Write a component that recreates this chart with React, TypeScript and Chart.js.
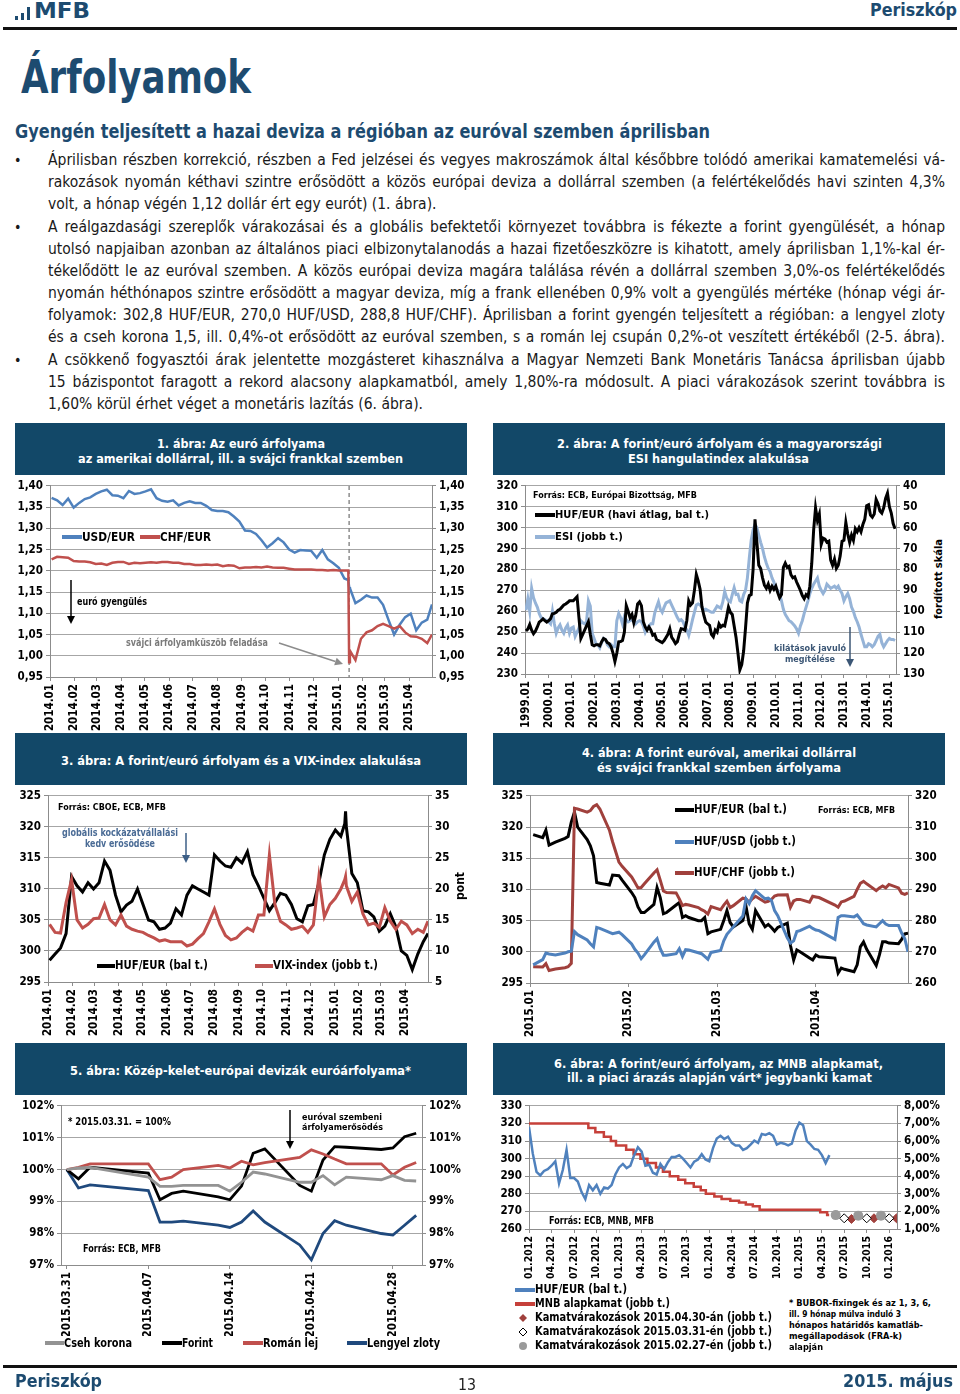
import React, { useEffect, useLayoutEffect, useRef } from "react";
import { Chart, registerables } from "chart.js";
Chart.register(...registerables);

const FONT = "'DejaVu Sans Condensed','DejaVu Sans',sans-serif";
const NARROW = "'Liberation Sans Narrow','DejaVu Sans Condensed',sans-serif";
const NAVY = "#1d4b70";
const BOXBG = "#124868";
const GRID = "#a6a6a6";
const AXIS = "#8c8c8c";
const BLUE = "#4f81bd";
const RED = "#c0504d";
const DRED = "#a0403c";
const LBLUE = "#95b3d7";
const DBLUE = "#1f497d";
const GRAYL = "#939393";

// ---------------- DATA ----------------
// Chart 1: USD/EUR and CHF/EUR (weekly readings)
const c1Dates = [
  "2014-01-03","2014-01-10","2014-01-17","2014-01-24","2014-01-31",
  "2014-02-07","2014-02-14","2014-02-21","2014-02-28",
  "2014-03-07","2014-03-14","2014-03-21","2014-03-28",
  "2014-04-04","2014-04-11","2014-04-18","2014-04-25",
  "2014-05-02","2014-05-09","2014-05-16","2014-05-23","2014-05-30",
  "2014-06-06","2014-06-13","2014-06-20","2014-06-27",
  "2014-07-04","2014-07-11","2014-07-18","2014-07-25",
  "2014-08-01","2014-08-08","2014-08-15","2014-08-22","2014-08-29",
  "2014-09-05","2014-09-12","2014-09-19","2014-09-26",
  "2014-10-03","2014-10-10","2014-10-17","2014-10-24","2014-10-31",
  "2014-11-07","2014-11-14","2014-11-21","2014-11-28",
  "2014-12-05","2014-12-12","2014-12-19","2014-12-26",
  "2015-01-02","2015-01-09","2015-01-14","2015-01-15","2015-01-16","2015-01-23","2015-01-30",
  "2015-02-06","2015-02-13","2015-02-20","2015-02-27",
  "2015-03-06","2015-03-13","2015-03-20","2015-03-27",
  "2015-04-03","2015-04-10","2015-04-17","2015-04-24","2015-04-30",
];
const c1Usd = [
  1.372,1.366,1.355,1.37,1.349, 1.36,1.369,1.373,1.381, 1.387,1.391,1.378,1.377,
  1.371,1.388,1.381,1.383, 1.387,1.392,1.371,1.365,1.363, 1.366,1.354,1.36,1.364,
  1.36,1.36,1.353,1.343, 1.341,1.341,1.338,1.328,1.316, 1.295,1.294,1.287,1.272,
  1.255,1.265,1.277,1.267,1.25, 1.243,1.249,1.248,1.247, 1.231,1.249,1.227,1.218,
  1.207,1.182,1.178,1.162,1.159,1.124,1.132, 1.142,1.137,1.137,1.12,
  1.084,1.05,1.073,1.091, 1.099,1.06,1.078,1.085,1.121,
];
const c1Chf = [
  1.227,1.233,1.232,1.231,1.223, 1.222,1.222,1.22,1.216, 1.217,1.214,1.219,1.221,
  1.221,1.216,1.219,1.218, 1.219,1.22,1.219,1.221,1.221, 1.219,1.219,1.216,1.216,
  1.214,1.214,1.215,1.214, 1.215,1.211,1.213,1.212,1.206, 1.208,1.208,1.209,1.208,
  1.21,1.208,1.207,1.207,1.205, 1.203,1.203,1.203,1.203, 1.202,1.202,1.201,1.202,
  1.201,1.201,1.201,0.985,1.012,0.99,1.04, 1.055,1.06,1.07,1.075,
  1.07,1.064,1.07,1.055, 1.046,1.045,1.04,1.03,1.05,
];
const c1Months = ["2014-01-01","2014-02-01","2014-03-01","2014-04-01","2014-05-01","2014-06-01","2014-07-01","2014-08-01","2014-09-01","2014-10-01","2014-11-01","2014-12-01","2015-01-01","2015-02-01","2015-03-01","2015-04-01"];
const c1MonthLabels = ["2014.01","2014.02","2014.03","2014.04","2014.05","2014.06","2014.07","2014.08","2014.09","2014.10","2014.11","2014.12","2015.01","2015.02","2015.03","2015.04"];
const c1YTicks = [0.95, 1.0, 1.05, 1.1, 1.15, 1.2, 1.25, 1.3, 1.35, 1.4];
const c1Break = "2015-01-15";

// Chart 2: HUF/EUR monthly average and ESI (1999.01 - 2015.04)
const c2Huf = [
  250.6,251.5,253.7,251.0,249.3,250.5,252.5,254.8,255.5,256.4,255.5,254.8,
  255.5,256.5,258.8,259.0,259.5,260.5,261.0,262.0,263.0,263.5,264.2,265.0,
  265.0,265.0,266.0,267.0,257.0,247.0,249.0,251.0,253.0,255.0,249.0,244.0,
  243.5,244.0,244.0,243.5,245.5,247.0,246.5,245.0,244.5,243.0,240.0,236.0,
  240.0,245.4,245.5,246.0,250.0,262.7,260.0,257.0,258.5,254.5,258.0,263.5,
  264.5,262.7,255.0,252.5,251.0,252.5,251.0,248.6,249.0,246.5,246.0,245.5,
  245.0,246.0,247.5,249.0,251.6,247.5,246.2,244.6,245.5,249.0,251.7,251.5,
  251.0,255.6,265.0,263.0,264.0,270.0,277.6,274.5,270.5,262.0,258.0,254.8,
  254.0,253.3,249.0,247.8,251.0,250.0,254.0,252.5,253.3,253.0,257.2,262.0,
  259.5,258.5,253.0,247.5,240.0,232.0,234.5,241.0,252.0,264.0,267.5,268.0,
  280.0,304.0,293.0,282.0,280.5,276.0,272.5,271.0,273.0,270.0,272.0,270.5,
  272.0,269.0,266.5,268.0,281.0,283.0,281.0,281.5,277.5,276.0,276.5,274.0,
  272.0,270.0,267.5,266.0,268.0,267.0,272.0,283.0,299.0,309.5,303.5,306.5,
  292.0,295.0,294.5,293.0,293.5,284.5,282.0,285.0,280.5,282.0,286.5,293.5,
  294.0,302.5,297.0,293.0,296.5,294.0,299.5,298.0,300.0,298.0,301.5,304.0,
  310.5,311.0,306.0,305.0,306.5,313.5,311.5,308.0,307.0,309.5,314.0,316.5,
  310.0,307.0,302.0,299.5,
];
const c2Esi = [
  99.5,94,100,89,93.5,96,98,101,103,103.5,104,104.5,
  105,106,100,106,110.5,108,106.5,109,110.5,108,106.5,110.5,
  108,107.5,112,110,108,104.5,105.5,106,105,95,97.5,110.5,
  113,115.5,116,117.5,115,113,113.5,116,117,116,117,117,
  104.5,101,103,106,102.5,104,105,104.5,104,105,106,105,
  104.5,105,107,110,108,107,106,106,101,98,95.5,99,
  100.5,98,96,95.5,95,97,99,101,103,104.5,104,105,
  107.5,109,111.5,108,104,100.5,97,96.5,97,98,99.5,99,
  99.5,100,100.5,100.5,99,97.5,98,98.5,95.5,90.5,93.5,95,
  95.5,92,88.7,92,91.8,95,95.5,92,90,84,74.5,66,
  61,58.5,60,63.5,67,70,74,77,79.5,81,84,86,
  89,90,92,95,99,101.5,103,104.5,105,106,107,108.5,
  110.5,107,104.5,101,98,95,91.5,89,87,85.5,84,88,
  90,91.5,90,87,88,89,88.5,88,89,88,90,91.5,
  95,93,91.5,94,98,100,103,105,107.5,111,114,117,
  117,115.5,116,117,116,114,112,111,115,117,115.5,114,
  113,113.5,113.5,114,
];
const c2Years = ["1999","2000","2001","2002","2003","2004","2005","2006","2007","2008","2009","2010","2011","2012","2013","2014","2015"];
const c2LeftTicks = [230, 240, 250, 260, 270, 280, 290, 300, 310, 320];
const c2RightTicks = [40, 50, 60, 70, 80, 90, 100, 110, 120, 130];

// Chart 3: HUF/EUR and VIX (same weekly dates as chart 1)
const c3Dates = c1Dates;
const c3Huf = [
  298.5,299.5,300.5,302.8,312,310.5,309.5,311,310,311,
  314.5,313,309,306.3,307.4,308,310,307.5,305,304.7,
  303.5,303.7,304.5,306.8,305.8,309,310.5,310,309.5,309,
  315.5,314.5,313.7,313.5,315,314.2,316,312.3,310.5,308.5,
  306.5,307.8,309.3,309,307.5,305.2,304.7,307.3,307.5,311,
  315.5,318,319.5,
  318.5,320.5,322.5,320.0,312.5,311.0,
  306.5,306.3,305.5,303.2, 304.0,306.0,303.9,300.0,
  299.3,297.0,299.5,301.5,302.8,
];
const c3Vix = [
  14.3,13.0,12.9,17.8,21.5,15.0,13.7,14.3,15.2,15.3,
  17.5,15.0,14.2,15.8,14.0,13.5,13.2,13.0,12.5,12.1,
  11.6,11.8,11.5,11.5,11.5,10.8,11.1,12.0,12.8,14.7,
  16.8,14.3,12.5,11.8,12.1,13.0,13.7,13.2,15.8,15.8,
  25.5,17.5,14.8,14.2,13.5,13.7,14.0,13.0,14.2,22.0,
  15.5,17.5,
  18.5,20.0,21.5,22.0,20.5,18.0,19.5,
  16.0,14.2,14.5,13.8, 17.0,14.8,13.5,14.8,
  14.2,12.8,13.5,13.0,14.8,
];
const c3LeftTicks = [295, 300, 305, 310, 315, 320, 325];
const c3RightTicks = [5, 10, 15, 20, 25, 30, 35];

// Chart 4: HUF vs EUR, USD, CHF (2015 Jan-Apr)
const c4Dates = [
  "2015-01-02","2015-01-05","2015-01-06","2015-01-07","2015-01-09","2015-01-12","2015-01-13","2015-01-14","2015-01-15","2015-01-16",
  "2015-01-19","2015-01-20","2015-01-21","2015-01-22","2015-01-23","2015-01-26","2015-01-27","2015-01-29","2015-01-30",
  "2015-02-02","2015-02-03","2015-02-04","2015-02-05","2015-02-06","2015-02-09","2015-02-10","2015-02-11","2015-02-12","2015-02-13",
  "2015-02-16","2015-02-17","2015-02-18","2015-02-19","2015-02-20","2015-02-23","2015-02-24","2015-02-25","2015-02-26","2015-02-27",
  "2015-03-02","2015-03-03","2015-03-04","2015-03-05","2015-03-06","2015-03-09","2015-03-10","2015-03-11","2015-03-12","2015-03-13",
  "2015-03-16","2015-03-17","2015-03-18","2015-03-19","2015-03-20","2015-03-23","2015-03-24","2015-03-25","2015-03-26","2015-03-27",
  "2015-03-30","2015-03-31",
  "2015-04-01","2015-04-02","2015-04-07","2015-04-08","2015-04-09","2015-04-10","2015-04-13","2015-04-14","2015-04-15","2015-04-16",
  "2015-04-17","2015-04-20","2015-04-21","2015-04-22","2015-04-23","2015-04-24","2015-04-27","2015-04-28","2015-04-29","2015-04-30",
];
const c4Eur = [
  318.8,318.3,319.5,317.1,317.6,318.2,318.5,320.8,322.4,320.0,
  318.0,317.0,315.4,311.1,311.0,310.7,312.3,312.2,311.5,
  309.5,308.7,307.2,306.3,306.3,307.6,310.3,308.7,306.1,306.3,
  307.5,307.9,305.5,305.8,305.5,305.0,305.0,305.5,302.9,303.2,
  303.6,305.0,306.6,304.7,304.0,305.0,307.3,304.5,303.6,306.6,
  304.0,304.4,303.9,303.3,303.9,304.6,301.0,298.7,300.3,300.0,
  299.0,298.7,
  299.5,299.2,299.0,296.6,297.4,297.2,296.8,297.9,300.8,301.6,
  300.4,297.8,299.5,301.6,301.6,301.4,301.3,302.0,302.9,303.0,
];
const c4Usd = [
  265.8,267.5,269.6,269.3,269.0,269.6,270.0,270.2,276.5,275.5,
  273.8,272.6,271.6,277.8,277.5,276.2,275.8,276.3,275.5,
  272.5,270.8,269.6,267.8,269.0,273.1,274.2,271.0,268.9,268.9,
  269.4,271.0,268.5,270.7,270.6,269.7,269.4,268.5,267.6,269.8,
  270.4,273.5,275.6,276.8,278.0,281.5,287.0,285.5,288.0,289.6,
  287.0,287.2,286.5,283.2,281.6,274.5,272.8,273.5,276.5,276.8,
  278.2,277.5,
  277.0,276.8,274.0,281.0,281.6,281.6,281.2,281.8,280.5,279.0,
  278.6,278.0,279.0,280.0,278.9,278.4,278.4,276.0,274.2,270.0,
];
const c4Chf = [
  265.2,265.1,266.2,264.0,264.5,264.9,265.2,266.3,316.0,315.8,
  314.8,315.3,316.6,317.2,315.8,309.0,305.3,298.8,297.4,
  294.0,292.3,290.5,290.6,291.8,295.3,296.3,293.0,289.5,289.0,
  288.9,287.0,284.8,285.2,285.0,284.2,283.5,283.0,282.1,284.5,
  283.5,285.0,286.2,284.2,284.8,287.2,287.0,285.9,287.0,287.8,
  285.9,286.2,286.8,287.9,288.2,288.3,284.3,286.3,286.8,286.8,
  285.9,287.8,
  287.6,287.4,285.0,284.3,286.0,286.3,287.8,290.0,292.0,292.6,
  291.8,289.6,290.5,291.1,290.5,291.6,290.5,288.8,288.4,288.9,
];
const c4Months = ["2015-01-01","2015-02-01","2015-03-01","2015-04-01"];
const c4MonthLabels = ["2015.01","2015.02","2015.03","2015.04"];
const c4LeftTicks = [295, 300, 305, 310, 315, 320, 325];
const c4RightTicks = [260, 270, 280, 290, 300, 310, 320];

// Chart 5: CEE currencies vs EUR, 2015.03.31 = 100%
const c5Dates = ["2015-03-31","2015-04-01","2015-04-02","2015-04-07","2015-04-08","2015-04-09","2015-04-10","2015-04-13","2015-04-14","2015-04-15","2015-04-16","2015-04-17","2015-04-20","2015-04-21","2015-04-22","2015-04-23","2015-04-24","2015-04-27","2015-04-28","2015-04-29","2015-04-30"];
const c5Czk = [100,100.05,100.07,99.76,99.47,99.47,99.5,99.5,99.32,99.6,99.92,99.86,99.6,99.6,99.81,99.52,99.76,99.68,99.81,99.66,99.64];
const c5Huf = [100,99.71,100.07,99.89,99.05,99.25,99.32,99.14,99.05,99.48,100.51,100.65,99.5,99.32,100.3,100.72,100.7,100.63,100.68,101.03,101.14];
const c5Ron = [100,100.07,100.18,100.18,99.68,99.76,100,100.13,100.05,100.26,100.15,100.22,100.38,100.62,100.49,100.33,100.18,100.18,99.83,100.07,100.22];
const c5Pln = [100,99.42,99.52,99.34,98.35,98.35,98.38,98.25,98.18,98.35,98.7,98.35,97.63,97.16,97.99,98.39,98.25,97.99,97.94,98.25,98.56];
const c5TickDates = ["2015-03-31","2015-04-07","2015-04-14","2015-04-21","2015-04-28"];
const c5TickLabels = ["2015.03.31","2015.04.07","2015.04.14","2015.04.21","2015.04.28"];
const c5YTicks = [97, 98, 99, 100, 101, 102];

// Chart 6: HUF/EUR (values on the 1st and 16th of each month from 2012.01), MNB base rate, expectations
const c6Huf = [
  318,303,292.5,290.5,293,294,296,298.5,286,293.5,
  305,289,289,287,281,277,285,282,285,280,
  283.6,283,285,291,295,297,294.6,296,302,306.5,
  304,296,296.5,292,291,297,294,298,301,301,
  302,300,297.5,295,298.3,299.5,302.5,299.5,298.5,306,
  311.5,313,311.2,312.5,309,307.5,307.5,305,306,308,
  310.3,309,314,313.5,314.5,313,308,309,308.5,307.5,
  308.5,316,320.5,319,310,308,305.5,305,302,297.5,
  302,
];
const c6RateDates = ["2012-01-01","2012-08-29","2012-09-26","2012-10-31","2012-11-28","2012-12-19","2013-01-30","2013-02-27","2013-03-27","2013-04-24","2013-05-29","2013-06-26","2013-07-24","2013-08-28","2013-09-25","2013-10-30","2013-11-27","2013-12-18","2014-01-22","2014-02-19","2014-03-26","2014-04-30","2014-05-28","2014-06-25","2014-07-23","2015-03-25","2015-04-22","2015-04-30"];
const c6Rates = [7.0,6.75,6.5,6.25,6.0,5.75,5.5,5.25,5.0,4.75,4.5,4.25,4.0,3.8,3.6,3.4,3.2,3.0,2.85,2.7,2.6,2.5,2.4,2.3,2.1,1.95,1.8,1.8];
const c6ExpFebDates = ["2015-05-27","2015-08-27","2015-11-27"];
const c6ExpFeb = [1.79, 1.76, 1.76];
const c6ExpMarDates = ["2015-06-30","2015-09-30","2015-12-31"];
const c6ExpMar = [1.61, 1.61, 1.61];
const c6ExpAprDates = ["2015-07-30","2015-10-30","2016-01-30"];
const c6ExpApr = [1.57, 1.61, 1.61];
const c6TickLabels = ["01.2012","04.2012","07.2012","10.2012","01.2013","04.2013","07.2013","10.2013","01.2014","04.2014","07.2014","10.2014","01.2015","04.2015","07.2015","10.2015","01.2016"];
const c6LeftTicks = [260, 270, 280, 290, 300, 310, 320, 330];
const c6RightTicks = [1, 2, 3, 4, 5, 6, 7, 8];

// Body text lines
const bodyLines = [
  "Áprilisban részben korrekció, részben a Fed jelzései és vegyes makroszámok által későbbre tolódó amerikai kamatemelési vá-",
  "rakozások nyomán kéthavi szintre erősödött a közös európai deviza a dollárral szemben (a felértékelődés havi szinten 4,3%",
  "volt, a hónap végén 1,12 dollár ért egy eurót) (1. ábra).",
  "A reálgazdasági szereplők várakozásai és a globális befektetői környezet továbbra is fékezte a forint gyengülését, a hónap",
  "utolsó napjaiban azonban az általános piaci elbizonytalanodás a hazai fizetőeszközre is kihatott, amely áprilisban 1,1%-kal ér-",
  "tékelődött le az euróval szemben. A közös európai deviza magára találása révén a dollárral szemben 3,0%-os felértékelődés",
  "nyomán héthónapos szintre erősödött a magyar deviza, míg a frank ellenében 0,9% volt a gyengülés mértéke (hónap végi ár-",
  "folyamok: 302,8 HUF/EUR, 270,0 HUF/USD, 288,8 HUF/CHF). Áprilisban a forint gyengén teljesített a régióban: a lengyel zloty",
  "és a cseh korona 1,5, ill. 0,4%-ot erősödött az euróval szemben, s a román lej csupán 0,2%-ot veszített értékéből (2-5. ábra).",
  "A csökkenő fogyasztói árak jelentette mozgásteret kihasználva a Magyar Nemzeti Bank Monetáris Tanácsa áprilisban újabb",
  "15 bázispontot faragott a rekord alacsony alapkamatból, amely 1,80%-ra módosult. A piaci várakozások szerint továbbra is",
  "1,60% körül érhet véget a monetáris lazítás (6. ábra).",
];
const bodyY = [160, 182, 204, 227, 249, 271, 293, 315, 337, 360, 382, 404];
const bodyWidths = [897, 897, 0, 897, 897, 897, 897, 897, 897, 897, 897, 0];
const bodyJustify = [true, true, false, true, true, true, true, true, true, true, true, false];
const bulletRows = [0, 3, 9];

// ---------------- HELPERS ----------------
const dayNum = (s: string) => Date.UTC(+s.slice(0, 4), +s.slice(5, 7) - 1, +s.slice(8, 10)) / 86400000;
const monthPos = (s: string) => {
  const y = +s.slice(0, 4), m = +s.slice(5, 7), d = +s.slice(8, 10);
  const dim = new Date(Date.UTC(y, m, 0)).getUTCDate();
  return (y - 2012) * 12 + (m - 1) + (d - 1) / dim;
};
const comma2 = (v: number) => v.toFixed(2).replace(".", ",");
const TICKFONT = { family: FONT, size: 11.5, weight: "bold" as const };

function yAxis(pos: "left" | "right", min: number, max: number, ticks: number[], fmt: (v: number) => string, width: number, gridOn: boolean, reverse = false) {
  return {
    type: "linear", position: pos, min, max, reverse,
    afterBuildTicks: (s: any) => { s.ticks = ticks.map((v) => ({ value: v })); },
    afterFit: (s: any) => { s.width = width; },
    grid: { display: true, drawOnChartArea: gridOn, color: GRID, lineWidth: 1, drawTicks: true, tickLength: 4, tickColor: AXIS },
    border: { display: true, color: AXIS, width: 1 },
    ticks: { callback: (v: any) => fmt(Number(v)), color: "#000", font: TICKFONT, padding: 3, autoSkip: false },
  };
}
function xAxis(min: number, max: number, ticks: number[], labels: string[], height: number, fontSize = 11.5) {
  return {
    type: "linear", position: "bottom", min, max,
    afterBuildTicks: (s: any) => { s.ticks = ticks.map((v) => ({ value: v })); },
    afterFit: (s: any) => { s.height = height; },
    grid: { display: true, drawOnChartArea: false, drawTicks: true, tickLength: 4, tickColor: AXIS },
    border: { display: true, color: AXIS, width: 1 },
    ticks: { callback: (_v: any, i: number) => labels[i], color: "#000", font: { ...TICKFONT, size: fontSize }, padding: 3, autoSkip: false, maxRotation: 90, minRotation: 90 },
  };
}
function lineDs(data: any[], color: string, yAxisID: string, width = 2.5, extra: any = {}) {
  return { data, borderColor: color, backgroundColor: color, borderWidth: width, pointRadius: 0, yAxisID, xAxisID: "x", tension: 0, fill: false, ...extra };
}
function baseOptions(padTop: number, scales: any) {
  return {
    responsive: false, maintainAspectRatio: false, animation: false, devicePixelRatio: 1, events: [],
    layout: { padding: { top: padTop, left: 0, right: 0, bottom: 0 } },
    plugins: { legend: { display: false }, tooltip: { enabled: false } },
    scales,
  };
}

// ---------------- CHART CONFIGS ----------------
const c1Origin = dayNum("2014-01-01");
const c1VLine = {
  id: "c1vline",
  beforeDatasetsDraw(chart: any) {
    const x = chart.scales.x.getPixelForValue(dayNum(c1Break) - c1Origin);
    const { top, bottom } = chart.chartArea;
    const ctx = chart.ctx;
    ctx.save();
    ctx.strokeStyle = "#8c8c8c"; ctx.lineWidth = 1.5; ctx.setLineDash([4, 3]);
    ctx.beginPath(); ctx.moveTo(x, top); ctx.lineTo(x, bottom); ctx.stroke();
    ctx.restore();
  },
};
function cfg1() {
  const xs = c1Dates.map((d) => dayNum(d) - c1Origin);
  return {
    type: "line",
    data: { datasets: [
      lineDs(xs.map((x, i) => ({ x, y: c1Chf[i] })), RED, "y"),
      lineDs(xs.map((x, i) => ({ x, y: c1Usd[i] })), BLUE, "y"),
    ] },
    options: baseOptions(7, {
      x: xAxis(0, dayNum("2015-04-30") - c1Origin, c1Months.map((d) => dayNum(d) - c1Origin), c1MonthLabels, 55),
      y: yAxis("left", 0.95, 1.4, c1YTicks, comma2, 40, true),
      y2: yAxis("right", 0.95, 1.4, c1YTicks, comma2, 40, false),
    }),
    plugins: [c1VLine],
  };
}
function cfg2() {
  return {
    type: "line",
    data: { datasets: [
      lineDs(c2Huf.map((v, i) => ({ x: i, y: v })), "#000", "y", 3),
      lineDs(c2Esi.map((v, i) => ({ x: i, y: v })), LBLUE, "y2", 3),
    ] },
    options: baseOptions(7, {
      x: xAxis(-0.5, 195.5, c2Years.map((_y, i) => i * 12), c2Years.map((y) => y + ".01"), 58),
      y: yAxis("left", 230, 320, c2LeftTicks, (v) => String(v), 35, true),
      y2: yAxis("right", 40, 130, c2RightTicks, (v) => String(v), 34, false, true),
    }),
  };
}
function cfg3() {
  const xs = c3Dates.map((d) => dayNum(d) - c1Origin);
  return {
    type: "line",
    data: { datasets: [
      lineDs(xs.map((x, i) => ({ x, y: c3Vix[i] })), RED, "y2", 3),
      lineDs(xs.map((x, i) => ({ x, y: c3Huf[i] })), "#000", "y", 3),
    ] },
    options: baseOptions(6, {
      x: xAxis(0, dayNum("2015-04-30") - c1Origin, c1Months.map((d) => dayNum(d) - c1Origin), c1MonthLabels, 56),
      y: yAxis("left", 295, 325, c3LeftTicks, (v) => String(v), 38, true),
      y2: yAxis("right", 5, 35, c3RightTicks, (v) => String(v), 34, false),
    }),
  };
}
function cfg4() {
  const o = dayNum("2015-01-01");
  const xs = c4Dates.map((d) => dayNum(d) - o);
  return {
    type: "line",
    data: { datasets: [
      lineDs(xs.map((x, i) => ({ x, y: c4Usd[i] })), BLUE, "y2", 3),
      lineDs(xs.map((x, i) => ({ x, y: c4Chf[i] })), DRED, "y2", 3),
      lineDs(xs.map((x, i) => ({ x, y: c4Eur[i] })), "#000", "y", 3),
    ] },
    options: baseOptions(7, {
      x: xAxis(0, dayNum("2015-04-30") - o, c4Months.map((d) => dayNum(d) - o), c4MonthLabels, 55),
      y: yAxis("left", 295, 325, c4LeftTicks, (v) => String(v), 40, true),
      y2: yAxis("right", 260, 320, c4RightTicks, (v) => String(v), 44, false),
    }),
  };
}
function cfg5() {
  const o = dayNum("2015-03-31");
  const xs = c5Dates.map((d) => dayNum(d) - o);
  const pts = (arr: number[]) => xs.map((x, i) => ({ x, y: arr[i] }));
  return {
    type: "line",
    data: { datasets: [
      lineDs(pts(c5Czk), GRAYL, "y", 2.8),
      lineDs(pts(c5Ron), RED, "y", 2.8),
      lineDs(pts(c5Huf), "#000", "y", 2.8),
      lineDs(pts(c5Pln), DBLUE, "y", 2.8),
    ] },
    options: baseOptions(9, {
      x: xAxis(-0.5, 30.5, c5TickDates.map((d) => dayNum(d) - o), c5TickLabels, 71),
      y: yAxis("left", 97, 102, c5YTicks, (v) => v + "%", 51, true),
      y2: yAxis("right", 97, 102, c5YTicks, (v) => v + "%", 50, false),
    }),
  };
}
function cfg6() {
  const mk = (dates: string[], vals: number[]) => dates.map((d, i) => ({ x: monthPos(d), y: vals[i] }));
  return {
    type: "line",
    data: { datasets: [
      lineDs(c6Huf.map((v, i) => ({ x: i / 2, y: v })), BLUE, "y", 2.5),
      lineDs(mk(c6RateDates, c6Rates), "#c6403a", "y2", 2.5, { stepped: "before" }),
      { data: mk(c6ExpFebDates, c6ExpFeb), showLine: false, yAxisID: "y2", xAxisID: "x", pointStyle: "circle", pointRadius: 5, pointBackgroundColor: "#9a9a9a", pointBorderColor: "#9a9a9a", pointBorderWidth: 0 },
      { data: mk(c6ExpMarDates, c6ExpMar), showLine: false, yAxisID: "y2", xAxisID: "x", pointStyle: "rectRot", pointRadius: 4.5, pointBackgroundColor: "#fff", pointBorderColor: "#000", pointBorderWidth: 1 },
      { data: mk(c6ExpAprDates, c6ExpApr), showLine: false, yAxisID: "y2", xAxisID: "x", pointStyle: "rectRot", pointRadius: 4.5, pointBackgroundColor: DRED, pointBorderColor: DRED, pointBorderWidth: 1 },
    ] },
    options: baseOptions(7, {
      x: xAxis(0, 49, c6TickLabels.map((_l, i) => i * 3), c6TickLabels, 56, 10.5),
      y: yAxis("left", 260, 330, c6LeftTicks, (v) => String(v), 39, true),
      y2: yAxis("right", 1, 8, c6RightTicks, (v) => comma2(v) + "%", 55, false),
    }),
  };
}

// ---------------- COMPONENTS ----------------
function ChartBox({ left, top, width, height, config }: any) {
  const ref = useRef<HTMLCanvasElement>(null);
  useEffect(() => {
    Chart.defaults.font.family = FONT;
    const chart = new Chart(ref.current as HTMLCanvasElement, config() as any);
    return () => chart.destroy();
  }, []);
  return <canvas ref={ref} width={width} height={height} style={{ position: "absolute", left, top, width, height }} />;
}

function T({ x, y, text, w, size = 11, weight = "bold", color = "#000", family = FONT, justify = false }: any) {
  const ref = useRef<HTMLSpanElement>(null);
  useLayoutEffect(() => {
    const el = ref.current;
    if (!el || !w) return;
    const fit = () => {
      el.style.transform = "none";
      el.style.wordSpacing = "0px";
      const nat = el.getBoundingClientRect().width;
      if (!nat) return;
      const spaces = (text.match(/ /g) || []).length;
      if (justify && nat < w && spaces > 0) {
        el.style.wordSpacing = (w - nat) / spaces + "px";
      } else {
        el.style.transform = `scaleX(${w / nat})`;
      }
    };
    fit();
    const f = (document as any).fonts;
    if (f && f.ready) f.ready.then(fit);
  }, [text, w, justify]);
  return (
    <span ref={ref} style={{ position: "absolute", left: x, top: y - size * 0.6, fontSize: size, lineHeight: `${size * 1.2}px`, fontWeight: weight, color, fontFamily: family, whiteSpace: "pre", transformOrigin: "0 50%" }}>{text}</span>
  );
}

function VT({ cx, cy, text, size = 12 }: any) {
  return (
    <div style={{ position: "absolute", left: cx, top: cy, transform: "translate(-50%,-50%) rotate(-90deg)", whiteSpace: "nowrap", fontSize: size, fontWeight: "bold", fontFamily: FONT, color: "#000" }}>{text}</div>
  );
}

function Sw({ x1, x2, y, color }: any) {
  return <div style={{ position: "absolute", left: x1, top: y - 2, width: x2 - x1, height: 4, background: color }} />;
}

function Box({ x, y, w, h }: any) {
  return <div style={{ position: "absolute", left: x, top: y, width: w, height: h, background: BOXBG }} />;
}

function Arrow({ x1, y1, x2, y2, color, width = 1.5 }: any) {
  const ang = Math.atan2(y2 - y1, x2 - x1);
  const L = 8, H = 4;
  const bx = x2 - L * Math.cos(ang), by = y2 - L * Math.sin(ang);
  const p1 = `${bx + H * Math.sin(ang)},${by - H * Math.cos(ang)}`;
  const p2 = `${bx - H * Math.sin(ang)},${by + H * Math.cos(ang)}`;
  return (
    <g>
      <line x1={x1} y1={y1} x2={bx} y2={by} stroke={color} strokeWidth={width} />
      <polygon points={`${x2},${y2} ${p1} ${p2}`} fill={color} />
    </g>
  );
}

export default function App() {
  return (
    <div style={{ position: "absolute", left: 0, top: 0, width: 960, height: 1394, background: "#fff", overflow: "hidden", fontFamily: FONT }}>
      {/* Header */}
      <div style={{ position: "absolute", left: 15, top: 16, width: 3, height: 4, background: NAVY }} />
      <div style={{ position: "absolute", left: 21, top: 13, width: 3, height: 7, background: NAVY }} />
      <div style={{ position: "absolute", left: 27, top: 7, width: 3, height: 13, background: NAVY }} />
      <T x={34} y={11} text="MFB" w={56} size={22} color={NAVY} family={NARROW} />
      <T x={870} y={10} text="Periszkóp" w={87} size={17} color={NAVY} />
      <div style={{ position: "absolute", left: 3, top: 27, width: 954, height: 3, background: "#111" }} />

      <T x={21} y={78} text="Árfolyamok" w={230} size={46} color={NAVY} family={NARROW} />
      <T x={15} y={131} text="Gyengén teljesített a hazai deviza a régióban az euróval szemben áprilisban" w={695} size={19} color={NAVY} family={NARROW} />

      {bulletRows.map((r) => (
        <T key={"b" + r} x={14} y={bodyY[r]} text="•" size={14} weight="normal" color="#1a1a1a" />
      ))}
      {bodyLines.map((t, i) => (
        <T key={"l" + i} x={48} y={bodyY[i]} text={t} w={bodyWidths[i]} size={15.5} weight="normal" color="#1a1a1a" justify={bodyJustify[i]} />
      ))}

      {/* Title boxes */}
      <Box x={15} y={423} w={452} h={52} />
      <T x={157} y={443} text="1. ábra: Az euró árfolyama" w={168} size={12.5} color="#fff" />
      <T x={78} y={458} text="az amerikai dollárral, ill. a svájci frankkal szemben" w={325} size={12.5} color="#fff" />
      <Box x={493} y={423} w={452} h={52} />
      <T x={557} y={443} text="2. ábra: A forint/euró árfolyam és a magyarországi" w={325} size={12.5} color="#fff" />
      <T x={628} y={458} text="ESI hangulatindex alakulása" w={181} size={12.5} color="#fff" />
      <Box x={15} y={733} w={452} h={52} />
      <T x={61} y={760} text="3. ábra: A forint/euró árfolyam és a VIX-index alakulása" w={360} size={12.5} color="#fff" />
      <Box x={493} y={733} w={452} h={52} />
      <T x={582} y={752} text="4. ábra: A forint euróval, amerikai dollárral" w={274} size={12.5} color="#fff" />
      <T x={597} y={767} text="és svájci frankkal szemben árfolyama" w={244} size={12.5} color="#fff" />
      <Box x={15} y={1043} w={452} h={52} />
      <T x={70} y={1070} text="5. ábra: Közép-kelet-európai devizák euróárfolyama*" w={341} size={12.5} color="#fff" />
      <Box x={493} y={1043} w={452} h={52} />
      <T x={554} y={1063} text="6. ábra: A forint/euró árfolyam, az MNB alapkamat," w={329} size={12.5} color="#fff" />
      <T x={567} y={1077} text="ill. a piaci árazás alapján várt* jegybanki kamat" w={305} size={12.5} color="#fff" />

      {/* Charts */}
      <ChartBox left={10} top={476} width={462} height={256} config={cfg1} />
      <ChartBox left={490} top={476} width={440} height={256} config={cfg2} />
      <ChartBox left={10} top={786} width={452} height={252} config={cfg3} />
      <ChartBox left={490} top={786} width={462} height={252} config={cfg4} />
      <ChartBox left={10} top={1096} width={462} height={240} config={cfg5} />
      <ChartBox left={490} top={1096} width={462} height={189} config={cfg6} />

      {/* Chart 1 overlays */}
      <Sw x1={62} x2={82} y={537} color={BLUE} />
      <T x={82} y={537} text="USD/EUR" w={53} size={12} />
      <Sw x1={140} x2={160} y={537} color={RED} />
      <T x={160} y={537} text="CHF/EUR" w={51} size={12} />
      <T x={77} y={602} text="euró gyengülés" w={70} size={10} />
      <T x={126} y={643} text="svájci árfolyamküszöb feladása" w={142} size={10} color="#7a7a7a" />

      {/* Chart 2 overlays */}
      <T x={533} y={495} text="Forrás: ECB, Európai Bizottság, MFB" w={164} size={9.5} />
      <Sw x1={535} x2={555} y={515} color="#000" />
      <T x={555} y={515} text="HUF/EUR (havi átlag, bal t.)" w={154} size={11} />
      <Sw x1={535} x2={555} y={537} color={LBLUE} />
      <T x={555} y={537} text="ESI (jobb t.)" w={68} size={11} />
      <T x={774} y={648} text="kilátások javuló" w={72} size={9.5} color="#3b5675" />
      <T x={785} y={659} text="megítélése" w={50} size={9.5} color="#3b5675" />
      <VT cx={938} cy={579} text="fordított skála" size={11} />

      {/* Chart 3 overlays */}
      <T x={58} y={807} text="Forrás: CBOE, ECB, MFB" w={108} size={9.5} />
      <T x={62} y={833} text="globális kockázatvállalási" w={116} size={10} color="#4a6b95" />
      <T x={85} y={844} text="kedv erősödése" w={70} size={10} color="#4a6b95" />
      <Sw x1={97} x2={115} y={966} color="#000" />
      <T x={115} y={966} text="HUF/EUR (bal t.)" w={93} size={11.5} />
      <Sw x1={255} x2={273} y={966} color={RED} />
      <T x={273} y={966} text="VIX-index (jobb t.)" w={105} size={11.5} />
      <VT cx={460} cy={886} text="pont" size={12} />

      {/* Chart 4 overlays */}
      <Sw x1={675} x2={694} y={810} color="#000" />
      <T x={694} y={810} text="HUF/EUR (bal t.)" w={93} size={11.5} />
      <T x={818} y={810} text="Forrás: ECB, MFB" w={77} size={9.5} />
      <Sw x1={675} x2={694} y={842} color={BLUE} />
      <T x={694} y={842} text="HUF/USD (jobb t.)" w={102} size={11.5} />
      <Sw x1={675} x2={694} y={873} color={DRED} />
      <T x={694} y={873} text="HUF/CHF (jobb t.)" w={101} size={11.5} />

      {/* Chart 5 overlays */}
      <T x={68} y={1122} text="* 2015.03.31. = 100%" w={103} size={10} />
      <T x={302} y={1117} text="euróval szembeni" w={80} size={9.5} />
      <T x={302} y={1127} text="árfolyamerősödés" w={81} size={9.5} />
      <T x={83} y={1249} text="Forrás: ECB, MFB" w={78} size={10} />
      <Sw x1={45} x2={64} y={1343} color={GRAYL} />
      <T x={64} y={1343} text="Cseh korona" w={68} size={12} />
      <Sw x1={162} x2={182} y={1343} color="#000" />
      <T x={182} y={1343} text="Forint" w={31} size={12} />
      <Sw x1={243} x2={263} y={1343} color={RED} />
      <T x={263} y={1343} text="Román lej" w={55} size={12} />
      <Sw x1={347} x2={367} y={1343} color={DBLUE} />
      <T x={367} y={1343} text="Lengyel zloty" w={73} size={12} />

      {/* Chart 6 overlays */}
      <T x={549} y={1221} text="Forrás: ECB, MNB, MFB" w={105} size={10} />
      <Sw x1={515} x2={535} y={1290} color={BLUE} />
      <T x={535} y={1290} text="HUF/EUR (bal t.)" w={92} size={11.5} />
      <Sw x1={515} x2={535} y={1304} color="#c6403a" />
      <T x={535} y={1304} text="MNB alapkamat (jobb t.)" w={135} size={11.5} />
      <T x={535} y={1318} text="Kamatvárakozások 2015.04.30-án (jobb t.)" w={237} size={11.5} />
      <T x={535} y={1332} text="Kamatvárakozások 2015.03.31-én (jobb t.)" w={237} size={11.5} />
      <T x={535} y={1346} text="Kamatvárakozások 2015.02.27-én (jobb t.)" w={237} size={11.5} />
      <T x={789} y={1303} text="* BUBOR-fixingek és az 1, 3, 6," w={142} size={9.5} />
      <T x={789} y={1314} text="ill. 9 hónap múlva induló 3" w={112} size={9.5} />
      <T x={789} y={1325} text="hónapos határidős kamatláb-" w={134} size={9.5} />
      <T x={789} y={1336} text="megállapodások (FRA-k)" w={113} size={9.5} />
      <T x={789} y={1347} text="alapján" w={34} size={9.5} />

      {/* Arrows and legend markers */}
      <svg width={960} height={1394} style={{ position: "absolute", left: 0, top: 0, pointerEvents: "none" }}>
        <Arrow x1={71} y1={580} x2={71} y2={624} color="#000" width={1.5} />
        <Arrow x1={279} y1={643} x2={343} y2={664} color="#8c8c8c" width={1.5} />
        <Arrow x1={850} y1={627} x2={850} y2={667} color="#3b5675" width={1.5} />
        <Arrow x1={186} y1={833} x2={186} y2={863} color="#3d5f87" width={1.5} />
        <Arrow x1={290} y1={1110} x2={290} y2={1149} color="#000" width={1.5} />
        <polygon points="523,1314 527,1318 523,1322 519,1318" fill={DRED} />
        <polygon points="523,1328 527,1332 523,1336 519,1332" fill="#fff" stroke="#000" strokeWidth={1} />
        <circle cx={523} cy={1346} r={4} fill="#9a9a9a" />
      </svg>

      {/* Footer */}
      <div style={{ position: "absolute", left: 3, top: 1365, width: 954, height: 3, background: "#111" }} />
      <T x={15} y={1381} text="Periszkóp" w={87} size={17} color={NAVY} />
      <T x={458} y={1385} text="13" w={18} size={16} weight="normal" color="#222" family={NARROW} />
      <T x={843} y={1381} text="2015. május" w={110} size={17} color={NAVY} />
    </div>
  );
}
